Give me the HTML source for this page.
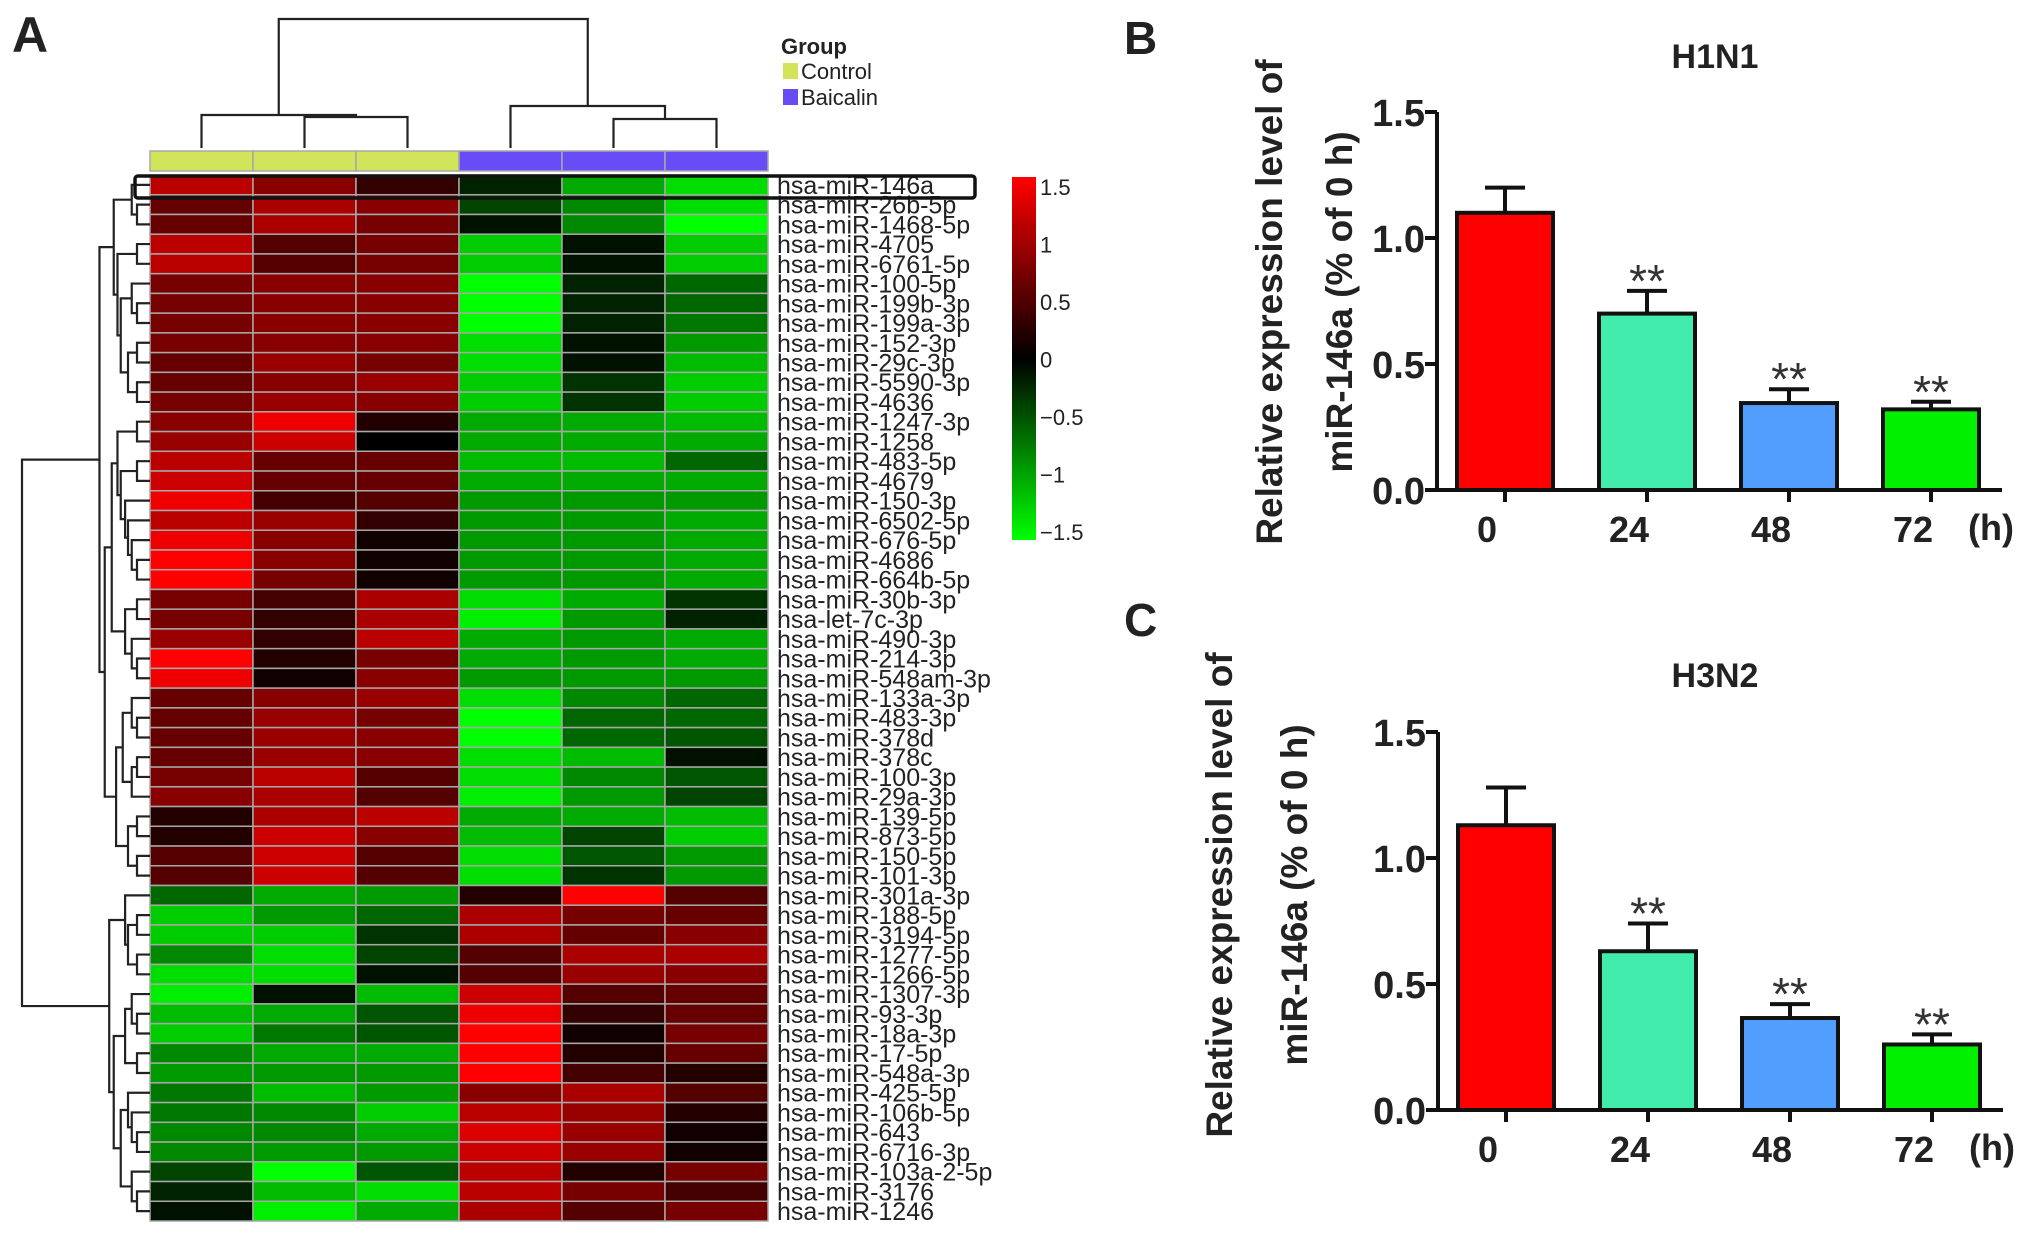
<!DOCTYPE html>
<html><head><meta charset="utf-8"><style>
html,body{margin:0;padding:0;background:#fff;}
svg{display:block;}
text{font-family:"Liberation Sans",sans-serif;}
</style></head><body>
<svg id="fig" width="2031" height="1233" viewBox="0 0 2031 1233" xmlns="http://www.w3.org/2000/svg">
<defs><linearGradient id="cbgrad" x1="0" y1="0" x2="0" y2="1"><stop offset="0" stop-color="#ff0000"/><stop offset="0.5" stop-color="#000000"/><stop offset="1" stop-color="#00ff00"/></linearGradient></defs>
<g id="heat"></g>
<g id="barB"></g>
<g id="barC"></g>
</svg>
<script>
const rowLabels = ["hsa-miR-146a","hsa-miR-26b-5p","hsa-miR-1468-5p","hsa-miR-4705","hsa-miR-6761-5p","hsa-miR-100-5p","hsa-miR-199b-3p","hsa-miR-199a-3p","hsa-miR-152-3p","hsa-miR-29c-3p","hsa-miR-5590-3p","hsa-miR-4636","hsa-miR-1247-3p","hsa-miR-1258","hsa-miR-483-5p","hsa-miR-4679","hsa-miR-150-3p","hsa-miR-6502-5p","hsa-miR-676-5p","hsa-miR-4686","hsa-miR-664b-5p","hsa-miR-30b-3p","hsa-let-7c-3p","hsa-miR-490-3p","hsa-miR-214-3p","hsa-miR-548am-3p","hsa-miR-133a-3p","hsa-miR-483-3p","hsa-miR-378d","hsa-miR-378c","hsa-miR-100-3p","hsa-miR-29a-3p","hsa-miR-139-5p","hsa-miR-873-5p","hsa-miR-150-5p","hsa-miR-101-3p","hsa-miR-301a-3p","hsa-miR-188-5p","hsa-miR-3194-5p","hsa-miR-1277-5p","hsa-miR-1266-5p","hsa-miR-1307-3p","hsa-miR-93-3p","hsa-miR-18a-3p","hsa-miR-17-5p","hsa-miR-548a-3p","hsa-miR-425-5p","hsa-miR-106b-5p","hsa-miR-643","hsa-miR-6716-3p","hsa-miR-103a-2-5p","hsa-miR-3176","hsa-miR-1246"];
const groups = ["Control","Control","Control","Baicalin","Baicalin","Baicalin"];
const heatValues = [
[1.1,0.8,0.3,-0.2,-1.0,-1.3],[0.6,1.0,0.8,-0.4,-0.8,-1.3],[0.6,1.0,0.7,-0.1,-0.8,-1.5],
[1.1,0.5,0.7,-1.2,-0.1,-1.2],[1.1,0.5,0.7,-1.2,-0.1,-1.2],[0.7,0.8,0.8,-1.5,-0.2,-0.6],
[0.7,0.8,0.8,-1.5,-0.2,-0.6],[0.7,0.8,0.8,-1.5,-0.2,-0.7],[0.7,0.8,0.8,-1.3,-0.1,-0.9],
[0.6,0.9,0.7,-1.3,-0.1,-1.1],[0.6,0.8,0.9,-1.2,-0.3,-1.2],[0.7,0.9,0.8,-1.2,-0.3,-1.2],
[0.8,1.4,0.2,-1.0,-1.0,-1.1],[0.9,1.2,0.0,-1.0,-1.0,-1.0],[1.1,0.6,0.6,-1.1,-1.1,-0.6],
[1.2,0.6,0.6,-1.0,-1.0,-1.0],[1.4,0.4,0.5,-0.9,-0.9,-0.9],[1.1,0.9,0.3,-0.9,-0.9,-1.0],
[1.4,0.8,0.1,-0.9,-0.9,-1.0],[1.5,0.8,0.1,-0.9,-0.9,-1.0],[1.5,0.7,0.1,-0.9,-0.9,-1.0],
[0.7,0.4,1.0,-1.3,-1.0,-0.3],[0.7,0.3,1.0,-1.4,-0.9,-0.2],[0.9,0.3,1.1,-1.0,-0.9,-1.0],
[1.5,0.2,0.7,-1.0,-0.9,-1.0],[1.4,0.1,0.8,-0.9,-0.9,-0.9],[0.6,0.8,0.9,-1.3,-0.8,-0.6],
[0.6,0.9,0.7,-1.5,-0.6,-0.6],[0.6,0.9,0.8,-1.5,-0.6,-0.5],[0.6,0.9,0.8,-1.3,-1.1,-0.1],
[0.7,1.1,0.5,-1.3,-0.8,-0.5],[0.8,1.0,0.5,-1.4,-0.9,-0.4],[0.2,1.0,1.1,-1.0,-1.0,-1.1],
[0.2,1.2,0.8,-1.1,-0.4,-1.2],[0.5,1.2,0.5,-1.3,-0.5,-0.9],[0.5,1.2,0.5,-1.3,-0.3,-0.9],
[-0.6,-1.0,-0.9,0.2,1.5,0.5],[-1.2,-0.9,-0.6,1.0,0.7,0.6],[-1.2,-1.2,-0.3,1.0,0.6,0.8],
[-0.8,-1.3,-0.4,0.5,1.0,1.0],[-1.3,-1.3,-0.1,0.5,0.9,0.8],[-1.4,-0.1,-1.1,1.2,0.5,0.6],
[-1.1,-1.0,-0.5,1.4,0.3,0.6],[-1.2,-0.7,-0.5,1.5,0.1,0.7],[-0.8,-1.0,-1.0,1.5,0.2,0.6],
[-0.9,-0.9,-0.9,1.5,0.4,0.2],[-0.7,-1.1,-0.9,0.8,1.0,0.5],[-0.7,-0.8,-1.2,1.1,0.9,0.2],
[-0.8,-0.8,-1.0,1.3,0.9,0.1],[-0.8,-0.9,-0.9,1.2,0.9,0.1],[-0.4,-1.5,-0.5,1.1,0.2,0.7],
[-0.2,-1.1,-1.3,1.1,0.7,0.4],[-0.1,-1.4,-1.0,1.0,0.5,0.7]];
const colorbarTicks = [1.5,1,0.5,0,-0.5,-1,-1.5];
const subA = [0,[1,2]];
const subB = [[3,4],[[5,[6,7]],[[8,9],[10,11]]]];
const subC = [[12,13],[[14,15],[16,[17,[18,[19,20]]]]]];
const subD = [[21,22],[23,[24,25]]];
const subE = [[26,[27,28]],[[29,30],31]];
const subF = [[32,33],[34,35]];
const subG = [36,[[37,38],[39,40]]];
const subH = [[41,[42,43]],[44,45]];
const subI = [[46,[47,[48,49]]],[50,[51,52]]];
const rowTree = [[[subA,subB],[[subC,subD],[subE,subF]]],[subG,[subH,subI]]];

const hTimes = ["0","24","48","72"];
const h1n1Means = [1.10,0.70,0.345,0.32];
const h1n1Upper = [1.20,0.79,0.40,0.35];
const h3n2Means = [1.13,0.63,0.365,0.26];
const h3n2Upper = [1.28,0.74,0.42,0.30];
const yTicks = [0,0.5,1.0,1.5];
const yTickLabels = ["0.0","0.5","1.0","1.5"];
const barColors = ["#ff0000","#42ecac","#519eff","#00f000"];

const SVGNS = "http://www.w3.org/2000/svg";
function mk(parent, tag, attrs, txt) {
  const e = document.createElementNS(SVGNS, tag);
  for (const k in attrs) e.setAttribute(k, attrs[k]);
  if (txt !== undefined) e.textContent = txt;
  parent.appendChild(e);
  return e;
}

// ---------- Heatmap ----------
const HM = document.getElementById('heat');
const hx0 = 150, hy0 = 175, cw = 103, rh = (1221 - 175) / rowLabels.length;
function colX(i) { return hx0 + i * cw; }
function rowY(r) { return hy0 + r * rh; }
function valColor(v) {
  const f = Math.min(1, Math.abs(v) / 1.5);
  const c = Math.round(255 * f);
  return v >= 0 ? "rgb(" + c + ",0,0)" : "rgb(0," + c + ",0)";
}
let lbl = mk(HM, 'text', {x: 12, y: 52, 'font-size': 50, 'font-weight': 'bold', fill: '#222'}, 'A');



for (let r = 0; r < heatValues.length; r++) {
  for (let c = 0; c < heatValues[r].length; c++) {
    const cell = mk(HM, 'rect', {x: colX(c), y: rowY(r), width: cw, height: rh, fill: valColor(heatValues[r][c]), stroke: '#a8a8a8', 'stroke-width': 1.5});
    
    
  }
  const rl = mk(HM, 'text', {x: 777, y: rowY(r) + rh / 2 + 9, 'font-size': 25, fill: '#222'}, rowLabels[r]);
  
  
}
for (let c = 0; c < groups.length; c++) {
  const gc = mk(HM, 'rect', {x: colX(c), y: 151, width: cw, height: 20, fill: groups[c] === 'Control' ? '#d2e45a' : '#6a4cf7', stroke: '#a8a8a8', 'stroke-width': 1.5});
  
  
}
function pl(p, pts) { mk(p, 'polyline', {points: pts.map(function (q) { return q[0] + ',' + q[1]; }).join(' ')}); }
function cc(c) { return colX(c) + cw / 2; }
const dg = mk(HM, 'g', {stroke: '#222', 'stroke-width': 2.2, fill: 'none'});


const m23 = (cc(1) + cc(2)) / 2, m56 = (cc(4) + cc(5)) / 2;
const mC = (cc(0) + m23) / 2, mB = (cc(3) + m56) / 2;
pl(dg, [[cc(1),148],[cc(1),117],[cc(2),117],[cc(2),148]]);
pl(dg, [[cc(0),148],[cc(0),115],[m23,115],[m23,117]]);
pl(dg, [[cc(4),148],[cc(4),119],[cc(5),119],[cc(5),148]]);
pl(dg, [[cc(3),148],[cc(3),106],[m56,106],[m56,119]]);
pl(dg, [[mC,115],[mC,19],[mB,19],[mB,106]]);

const rg = mk(HM, 'g', {stroke: '#222', 'stroke-width': 2.2, fill: 'none'});


function cnt(n) { return Array.isArray(n) ? cnt(n[0]) + cnt(n[1]) : 1; }
function dr(n, isRoot) {
  if (!Array.isArray(n)) return {x: hx0, y: rowY(n) + rh / 2};
  const a = dr(n[0], false), b = dr(n[1], false);
  const x = isRoot ? 22 : 146 - 9 * Math.log2(cnt(n));
  pl(rg, [[a.x,a.y],[x,a.y],[x,b.y],[b.x,b.y]]);
  return {x: x, y: (a.y + b.y) / 2};
}
dr(rowTree, true);

const hb = mk(HM, 'rect', {x: 135, y: 176, width: 840, height: 22, rx: 3, fill: 'none', stroke: '#111', 'stroke-width': 3.5});



const cbTop = 187, cbBot = 532;
function cbY(v) { return cbTop + (1.5 - v) / 3 * (cbBot - cbTop); }
const cbar = mk(HM, 'rect', {x: 1012, y: 177, width: 24, height: 363, fill: 'url(#cbgrad)'});


for (const v of colorbarTicks) {
  const ct = mk(HM, 'text', {x: 1040, y: cbY(v) + 8, 'font-size': 22, fill: '#222'}, String(v).replace('-', '\u2212'));
  
  
}
lbl = mk(HM, 'text', {x: 781, y: 54, 'font-size': 22, 'font-weight': 'bold', fill: '#222'}, 'Group');


const legendItems = [['Control', '#d2e45a', 71], ['Baicalin', '#6a4cf7', 97]];
for (const it of legendItems) {
  const lg = mk(HM, 'g', {});
  
  
  mk(lg, 'rect', {x: 783, y: it[2] - 8, width: 15, height: 16, fill: it[1]});
  mk(lg, 'text', {x: 801, y: it[2] + 8, 'font-size': 22, fill: '#222'}, it[0]);
}

// ---------- Bar charts ----------
function barChart(gid, letter, ly, title, ty, axX, y0, means, upper, yl1, yl2, ylC) {
  const G = document.getElementById(gid);
  function yS(v) { return y0 - v * 252; }
  function xC(i) { return axX + 68 + i * 142; }
  let e = mk(G, 'text', {x: 1124, y: ly, 'font-size': 46, 'font-weight': 'bold', fill: '#222'}, letter);
  
  
  e = mk(G, 'text', {x: 1715, y: ty + 12, 'font-size': 34, 'font-weight': 'bold', 'text-anchor': 'middle', fill: '#222'}, title);
  
  
  e = mk(G, 'text', {transform: 'translate(' + yl1 + ',' + ylC + ') rotate(-90)', 'font-size': 37, 'font-weight': 'bold', 'text-anchor': 'middle', fill: '#222'}, 'Relative expression level of');
  
  
  e = mk(G, 'text', {transform: 'translate(' + yl2 + ',' + ylC + ') rotate(-90)', 'font-size': 37, 'font-weight': 'bold', 'text-anchor': 'middle', fill: '#222'}, 'miR-146a (% of 0 h)');
  
  
  for (let i = 0; i < means.length; i++) {
    const x = xC(i), m = means[i];
    const b = mk(G, 'rect', {x: x - 48, y: yS(m), width: 96, height: y0 - yS(m), fill: barColors[i], stroke: '#111', 'stroke-width': 4});
    
    
    const eb = mk(G, 'path', {d: 'M' + x + ',' + yS(m) + ' V' + yS(upper[i]) + ' M' + (x - 20) + ',' + yS(upper[i]) + ' H' + (x + 20), stroke: '#111', 'stroke-width': 4, fill: 'none'});
    
    
    if (i > 0) {
      const s = mk(G, 'text', {x: x, y: yS(upper[i]) + 6, 'font-size': 46, 'text-anchor': 'middle', fill: '#333'}, '**');
      
      
    }
    const tk = mk(G, 'line', {x1: x, y1: y0, x2: x, y2: y0 + 12, stroke: '#111', 'stroke-width': 4});
    
    
    const tl = mk(G, 'text', {x: x - 18, y: y0 + 52, 'font-size': 36, 'font-weight': 'bold', 'text-anchor': 'middle', fill: '#222'}, hTimes[i]);
    
    
  }
  e = mk(G, 'text', {x: axX + 531, y: y0 + 50, 'font-size': 36, 'font-weight': 'bold', fill: '#222'}, '(h)');
  
  
  for (let i = 0; i < yTicks.length; i++) {
    const v = yTicks[i];
    const l = mk(G, 'line', {x1: axX - 12, y1: yS(v), x2: axX, y2: yS(v), stroke: '#111', 'stroke-width': 4});
    
    
    const tl = mk(G, 'text', {x: axX - 12, y: yS(v) + 14, 'font-size': 38, 'font-weight': 'bold', 'text-anchor': 'end', fill: '#222'}, yTickLabels[i]);
    
    
  }
  e = mk(G, 'path', {d: 'M' + axX + ',' + yS(1.5) + ' V' + y0 + ' H' + (axX + 565), stroke: '#111', 'stroke-width': 4, fill: 'none'});
  
  
}
barChart('barB', 'B', 54, 'H1N1', 56, 1437, 490, h1n1Means, h1n1Upper, 1282, 1352, 302);
barChart('barC', 'C', 636, 'H3N2', 675, 1438, 1110, h3n2Means, h3n2Upper, 1232, 1307, 895);
</script>
</body></html>
